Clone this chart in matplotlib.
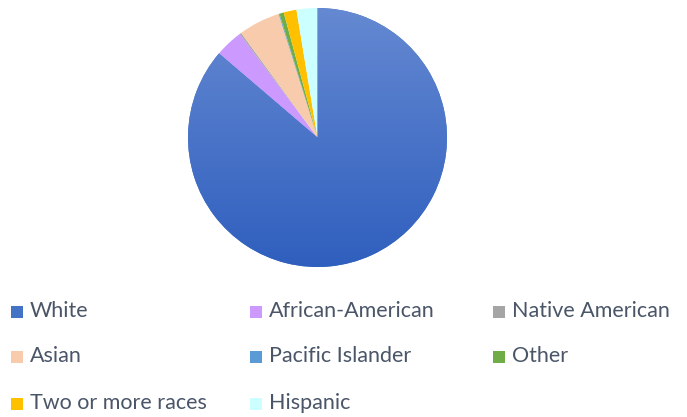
import matplotlib
matplotlib.use('Agg')
import matplotlib.pyplot as plt
from matplotlib.patches import Rectangle
import numpy as np

# race breakdown (percent), Excel order: clockwise from 12 o'clock
labels = ['White', 'African-American', 'Native American', 'Asian',
          'Pacific Islander', 'Other', 'Two or more races', 'Hispanic']
values = [86.3, 3.5, 0.2, 5.2, 0.1, 0.55, 1.6, 2.6]
colors = ['#4472C4', '#CC99FF', '#A5A5A5', '#F8CBAD',
          '#5B9BD5', '#70AD47', '#FFC000', '#CCFFFF']

W, H = 687, 417
fig = plt.figure(figsize=(W / 100, H / 100), dpi=100)

# pie axes: centre (317.5, 137.5) px, radius 129.5 px
r = 129.5
ax = fig.add_axes([(317.5 - r) / W, (H - 137.5 - r) / H, 2 * r / W, 2 * r / H])
wedges, _ = ax.pie(values, colors=colors, startangle=90, counterclock=False,
                   wedgeprops=dict(linewidth=0))

# vertical gradient on the big slice, like the Excel fill (light top, dark bottom)
grad = np.linspace(0, 1, 256).reshape(-1, 1)
cmap = matplotlib.colors.LinearSegmentedColormap.from_list('g', ['#2F5FBE', '#6589D2'])
im = ax.imshow(grad, extent=[-1, 1, -1, 1], origin='lower', cmap=cmap,
               aspect='auto', zorder=2)
im.set_clip_path(wedges[0])
ax.set_xlim(-1, 1)
ax.set_ylim(-1, 1)

# legend, 3 columns, filled row-wise
col_x = [11, 250, 493]
row_y = [311, 356, 403]
for i, (lab, c) in enumerate(zip(labels, colors)):
    x = col_x[i % 3]
    y = row_y[i // 3]
    fig.patches.append(Rectangle((x / W, 1 - (y + 6.5) / H), 12 / W, 12 / H,
                                 transform=fig.transFigure, facecolor=c,
                                 edgecolor='none'))
    fig.text((x + 19) / W, 1 - y / H, lab, ha='left', va='center',
             fontsize=15.5, family='Lato', color='#4A5568')

fig.savefig('out.png', dpi=100)
